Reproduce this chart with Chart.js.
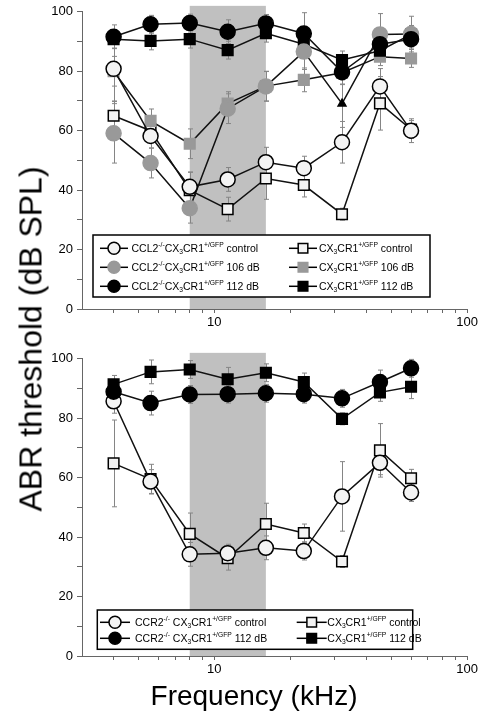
<!DOCTYPE html>
<html>
<head>
<meta charset="utf-8">
<script src="https://cdn.jsdelivr.net/npm/chart.js@4.4.1/dist/chart.umd.min.js"></script>
<style>
  html, body { margin: 0; padding: 0; background: #fff; }
  body { width: 480px; height: 719px; position: relative; overflow: hidden;
         font-family: "Liberation Sans", Arial, sans-serif; }
  .panel { position: absolute; left: 0; width: 480px; height: 340px; }
  #top { top: 0; }
  #bottom { top: 347px; }
  #ytitle { position: absolute; left: 31px; top: 339px; font-size: 32px; white-space: nowrap;
            transform: translate(-50%, -50%) rotate(-90deg); }
  #xtitle { position: absolute; left: 254px; top: 696px; font-size: 28px; white-space: nowrap;
            transform: translate(-50%, -50%); }
</style>
</head>
<body>
<div class="panel" id="top"><canvas id="topChart" width="480" height="340"></canvas></div>
<div class="panel" id="bottom"><canvas id="bottomChart" width="480" height="340"></canvas></div>
<div id="ytitle">ABR threshold (dB SPL)</div>
<div id="xtitle">Frequency (kHz)</div>
<script>
// ─── Data ────────────────────────────────────────────────────────────

const FREQ = [4, 5.6, 8, 11.3, 16, 22.6, 32, 45.2, 60];
const X_TICKS = [4, 5, 6, 7, 8, 9, 10, 20, 30, 40, 50, 60, 70, 80, 90, 100];
const X_LABELS = [10, 100];
const BAND = [8, 16];   // shaded region, kHz
const BAND_TOP = 102;   // dB

// top panel (CCL2)
const ccl2Ctrl   = [80.8, 58.2, 41.1, 43.6, 49.4, 47.4, 56.1, 74.9, 60.0];
const ccl2CtrlE  = [11, 4, 5, 4, 5, 4, 7, 6, 4];
const ccl2N106   = [59.1, 49.1, 33.9, 67.4, 74.9, 86.6, 69.1, 92.4, 92.5];
const ccl2N106E  = [10, 5, 5, 5, 5, 6, 8, 7, 6];
const ccl2N112   = [91.6, 95.8, 96.2, 93.3, 96.1, 92.7, 79.7, 89.1, 90.8];
const ccl2N112E  = [4, 3, 3, 4, 3, 7, 4, 5, 3];
const cx3Ctrl    = [65.0, 60.0, 40.0, 33.6, 43.9, 41.7, 31.9, 69.2, 60.4];
const cx3CtrlE   = [5, 4, 6, 4, 7, 4, 2, 9, 3];
const cx3N106    = [80.0, 63.3, 55.6, 69.1, 75.0, 77.1, 79.5, 84.9, 84.3];
const cx3N106E   = [5, 4, 5, 4, 5, 4, 4, 3, 3];
const cx3N112    = [90.8, 90.2, 90.8, 87.1, 92.8, 89.1, 83.8, 86.9, 92.4];
const cx3N112E   = [3, 3, 3, 3, 3, 3, 3, 3, 3];

// bottom panel (CCR2)
const ccr2Ctrl   = [85.7, 58.7, 34.2, 34.6, 36.4, 35.3, 53.7, 65.0, 55.0];
const ccr2CtrlE  = [4, 4, 4, 3, 4, 3, 11.7, 4, 3];
const ccr2N112   = [88.9, 85.1, 88.0, 88.1, 88.4, 88.1, 86.7, 92.2, 96.8];
const ccr2N112E  = [4, 4, 3, 3, 3, 3, 3, 4, 3];
const cx3bCtrl   = [64.8, 59.5, 41.1, 32.9, 44.4, 41.4, 31.8, 69.2, 59.8];
const cx3bCtrlE  = [14.6, 5, 7, 4, 7, 3, 2, 9, 3];
const cx3bN112   = [91.4, 95.6, 96.4, 93.1, 95.3, 92.2, 79.8, 88.7, 90.6];
const cx3bN112E  = [3, 4, 3, 4, 3, 3, 2, 3, 4];

// ─── Styles ──────────────────────────────────────────────────────────

const FONT = '"Liberation Sans", Arial, sans-serif';
const WHITE = '#f3f3f3';
const GRAY = '#999999';
const BLACK = '#000000';

function series(label, vals, errs, shape, fill) {
  return {
    label,
    data: FREQ.map((f, i) => ({ x: f, y: vals[i] })),
    err: errs,
    showLine: true,
    borderColor: '#111',
    borderWidth: 1.5,
    pointStyle: shape,
    pointRadius: 7.5,
    pointHoverRadius: 7.5,
    pointBackgroundColor: fill,
    pointBorderColor: fill === GRAY ? GRAY : '#000',
    pointBorderWidth: 1.5,
    tension: 0,
    clip: false,
  };
}

// ─── Plugins ─────────────────────────────────────────────────────────

const bandPlugin = {
  id: 'band',
  beforeDraw(chart) {
    const { ctx, scales: { x, y } } = chart;
    const x0 = x.getPixelForValue(BAND[0]), x1 = x.getPixelForValue(BAND[1]);
    const y0 = y.getPixelForValue(BAND_TOP), y1 = y.getPixelForValue(0);
    ctx.save();
    ctx.fillStyle = '#c0c0c0';
    ctx.fillRect(x0, y0, x1 - x0, y1 - y0);
    ctx.restore();
  }
};

const errorBars = {
  id: 'errorBars',
  beforeDatasetsDraw(chart) {
    const { ctx, scales: { x, y } } = chart;
    ctx.save();
    ctx.strokeStyle = '#858585';
    ctx.lineWidth = 1;
    chart.data.datasets.forEach(ds => {
      (ds.err || []).forEach((e, i) => {
        const p = ds.data[i];
        const px = Math.round(x.getPixelForValue(p.x)) + 0.5;
        const ya = y.getPixelForValue(p.y + e), yb = y.getPixelForValue(p.y - e);
        ctx.beginPath();
        ctx.moveTo(px, ya); ctx.lineTo(px, yb);
        ctx.moveTo(px - 2.5, ya); ctx.lineTo(px + 2.5, ya);
        ctx.moveTo(px - 2.5, yb); ctx.lineTo(px + 2.5, yb);
        ctx.stroke();
      });
    });
    ctx.restore();
  }
};

// text with ^{sup} and _{sub} parts
function drawRich(ctx, x, y, str, size) {
  const parts = str.split(/(\^\{[^}]*\}|_\{[^}]*\})/).filter(Boolean);
  for (const p of parts) {
    let t = p, fs = size, dy = 0;
    if (p.startsWith('^{')) { t = p.slice(2, -1); fs = size * 0.64; dy = -size * 0.36; }
    else if (p.startsWith('_{')) { t = p.slice(2, -1); fs = size * 0.64; dy = size * 0.3; }
    ctx.font = fs + 'px ' + FONT;
    ctx.fillText(t, x, y + dy);
    x += ctx.measureText(t).width;
  }
}

function drawMarker(ctx, shape, fill, stroke, x, y, r) {
  ctx.fillStyle = fill;
  ctx.strokeStyle = stroke;
  ctx.lineWidth = 1.5;
  ctx.beginPath();
  if (shape === 'circle') {
    ctx.arc(x, y, r, 0, Math.PI * 2);
  } else {
    const s = r * Math.SQRT1_2;
    ctx.rect(x - s, y - s, 2 * s, 2 * s);
  }
  ctx.fill();
  ctx.stroke();
}

const richLegend = {
  id: 'richLegend',
  afterDatasetsDraw(chart, args, o) {
    const { ctx, chartArea: a } = chart;
    const bx = a.left + o.left, by = a.bottom - o.bottom - o.height;
    ctx.save();
    ctx.fillStyle = '#fff';
    ctx.fillRect(bx, by, o.width, o.height);
    ctx.strokeStyle = '#000';
    ctx.lineWidth = 1.5;
    ctx.strokeRect(bx, by, o.width, o.height);
    o.cols.forEach((col, c) => {
      col.forEach((di, r) => {
        const ds = chart.data.datasets[di];
        const cx = bx + o.markX[c], cy = by + o.rowY[r];
        ctx.strokeStyle = '#000';
        ctx.lineWidth = 1.5;
        ctx.beginPath();
        ctx.moveTo(cx - o.lineHalf, cy); ctx.lineTo(cx + o.lineHalf, cy);
        ctx.stroke();
        const shape = Array.isArray(ds.pointStyle) ? ds.pointStyle[0] : ds.pointStyle;
        const fill = Array.isArray(ds.pointBackgroundColor) ? ds.pointBackgroundColor[0] : ds.pointBackgroundColor;
        const stroke = Array.isArray(ds.pointBorderColor) ? ds.pointBorderColor[0] : ds.pointBorderColor;
        drawMarker(ctx, shape, fill, stroke, cx, cy, shape === 'circle' ? 6 : 6.8);
        ctx.fillStyle = '#000';
        ctx.textBaseline = 'middle';
        ctx.textAlign = 'left';
        drawRich(ctx, bx + o.textX[c], cy + 0.5, ds.label, o.font);
      });
    });
    ctx.restore();
  }
};

// ─── Chart Config ────────────────────────────────────────────────────

function makeChart(id, datasets, legend) {
  return new Chart(document.getElementById(id), {
    type: 'scatter',
    data: { datasets },
    plugins: [bandPlugin, errorBars, richLegend],
    options: {
      responsive: false,
      animation: false,
      events: [],
      layout: { padding: { top: 6, right: 12, left: 0, bottom: 0 } },
      plugins: {
        legend: { display: false },
        tooltip: { enabled: false },
        richLegend: legend,
      },
      scales: {
        x: {
          type: 'logarithmic',
          min: 3,
          max: 100,
          afterBuildTicks: s => { s.ticks = X_TICKS.map(v => ({ value: v })); },
          afterFit: s => { s.height = 31; },
          ticks: {
            autoSkip: false,
            maxRotation: 0,
            padding: 2,
            color: '#000',
            font: { size: 13, family: FONT },
            callback: v => X_LABELS.includes(v) ? String(v) : '',
          },
          grid: { drawOnChartArea: false, drawTicks: true, tickLength: 4, tickColor: '#666' },
          border: { color: '#666', width: 1 },
        },
        y: {
          min: 0,
          max: 100,
          afterFit: s => { s.width = 82; },
          ticks: {
            stepSize: 5,
            padding: 4,
            color: '#000',
            font: { size: 13, family: FONT },
            callback: v => v % 20 === 0 ? String(v) : '',
          },
          grid: { drawOnChartArea: false, drawTicks: true, tickLength: 5, tickColor: '#666' },
          border: { color: '#666', width: 1 },
        },
      },
    },
  });
}

// ─── Top panel ───────────────────────────────────────────────────────

const g106 = series('CCL2^{-/-}CX_{3}CR1^{+/GFP} 106 dB', ccl2N106, ccl2N106E, 'circle', GRAY);
// the 32 kHz point is drawn as a black triangle in the original
g106.pointStyle = FREQ.map((f, i) => i === 6 ? 'triangle' : 'circle');
g106.pointBackgroundColor = FREQ.map((f, i) => i === 6 ? BLACK : GRAY);
g106.pointBorderColor = FREQ.map((f, i) => i === 6 ? BLACK : GRAY);
g106.pointRadius = FREQ.map((f, i) => i === 6 ? 4.5 : 7.5);

makeChart('topChart', [
  series('CCL2^{-/-}CX_{3}CR1^{+/GFP} 112 dB', ccl2N112, ccl2N112E, 'circle', BLACK),
  series('CCL2^{-/-}CX_{3}CR1^{+/GFP} control', ccl2Ctrl, ccl2CtrlE, 'circle', WHITE),
  g106,
  series('CX_{3}CR1^{+/GFP} 112 dB', cx3N112, cx3N112E, 'rect', BLACK),
  series('CX_{3}CR1^{+/GFP} 106 dB', cx3N106, cx3N106E, 'rect', GRAY),
  series('CX_{3}CR1^{+/GFP} control', cx3Ctrl, cx3CtrlE, 'rect', WHITE),
], {
  left: 11, bottom: 12, width: 337, height: 62,
  rowY: [13.3, 32.3, 51.3],
  markX: [21, 210], textX: [38.5, 226], lineHalf: 14, font: 10.5,
  cols: [[1, 2, 0], [5, 4, 3]],
});

// ─── Bottom panel ────────────────────────────────────────────────────

makeChart('bottomChart', [
  series('CCR2^{-/-} CX_{3}CR1^{+/GFP} 112 dB', ccr2N112, ccr2N112E, 'circle', BLACK),
  series('CCR2^{-/-} CX_{3}CR1^{+/GFP} control', ccr2Ctrl, ccr2CtrlE, 'circle', WHITE),
  series('CX_{3}CR1^{+/GFP} 112 dB', cx3bN112, cx3bN112E, 'rect', BLACK),
  series('CX_{3}CR1^{+/GFP} control', cx3bCtrl, cx3bCtrlE, 'rect', WHITE),
], {
  left: 15.3, bottom: 6.7, width: 315.4, height: 39.3,
  rowY: [12.3, 28.3],
  markX: [17.7, 214.4], textX: [37.7, 230], lineHalf: 15, font: 10.5,
  cols: [[1, 0], [3, 2]],
});
</script>
</body>
</html>
